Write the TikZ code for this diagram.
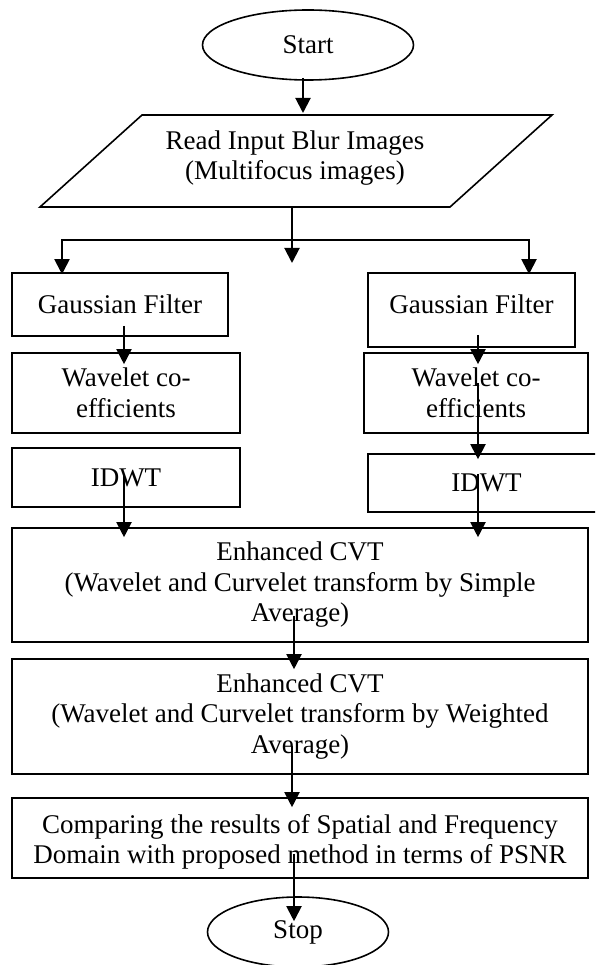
\documentclass[tikz,border=0pt]{standalone}
\usepackage{fontspec}
\setmainfont{Liberation Serif}
\usetikzlibrary{arrows.meta,shapes.geometric}

\begin{document}
\begin{tikzpicture}[x=1pt,y=-1pt,
  every node/.style={font=\fontsize{27}{30.5}\selectfont, align=center, inner sep=0pt},
  box/.style={draw, line width=1.6pt, rectangle},
  term/.style={draw, line width=1.6pt, ellipse},
  flow/.style={line width=2pt, -{Triangle[length=15pt,width=15pt]}},
  plain/.style={line width=2pt}]

\clip (0,0) rectangle (595,965);
\fill[white] (0,0) rectangle (595,965);

% terminals
\node[term, minimum width=211pt, minimum height=70pt] (start) at (308,45) {Start};
\node[term, minimum width=181pt, minimum height=70pt] (stop) at (298,932) {Stop};

% input parallelogram
\draw[line width=1.6pt] (142,115) -- (552,115) -- (450,207) -- (40,207) -- cycle;
\node (read) at (295,158) {Read Input Blur Images\\(Multifocus images)};
\coordinate (readtop) at (303,115);
\coordinate (readbot) at (292,207);
\coordinate (split) at (292,240);
\coordinate (dangle) at (292,263);

% left branch
\node[box, minimum width=216pt, minimum height=63pt] (g1) at (120,304.5) {Gaussian Filter};
\node[box, minimum width=228pt, minimum height=80pt] (w1) at (126,393) {Wavelet co-\\efficients};
\node[box, minimum width=228pt, minimum height=59pt] (i1) at (126,477.5) {IDWT};

% right branch
\node[box, minimum width=207pt, minimum height=74pt,
      label={[yshift=6pt]center:Gaussian Filter}] (g2) at (471.5,310) {};
\node[box, minimum width=224pt, minimum height=80pt] (w2) at (476,393) {Wavelet co-\\efficients};
\node[box, minimum width=237pt, minimum height=58pt] (i2) at (486.5,483) {IDWT};

% fusion and evaluation
\node[box, minimum width=576pt, minimum height=114pt] (e1) at (300,585)
  {Enhanced CVT\\(Wavelet and Curvelet transform by Simple\\Average)};
\node[box, minimum width=576pt, minimum height=115pt] (e2) at (300,716.5)
  {Enhanced CVT\\(Wavelet and Curvelet transform by Weighted\\Average)};
\node[box, minimum width=576pt, minimum height=80pt,
      label={[yshift=-4pt]center:{Comparing the results of Spatial and Frequency\\Domain with proposed method in terms of PSNR}}] (cmp) at (300,838) {};

% connectors
\draw[flow] ([xshift=-5pt,yshift=3pt]start.south) -- ([yshift=2pt]readtop);
\draw[plain] (readbot) -- (split);
\draw[flow] (split) -- (dangle);
\draw[flow, shorten >=-2pt] (split) -| ([xshift=-58pt]g1.north);
\draw[flow, shorten >=-2pt] (split) -| ([xshift=57.5pt]g2.north);
\draw[flow] ([xshift=4pt,yshift=11pt]g1.south) -- ([xshift=-2pt,yshift=-12pt]w1.north);
\draw[flow] ([xshift=6.5pt,yshift=13pt]g2.south) -- ([xshift=2pt,yshift=-12pt]w2.north);
\draw[flow] ([xshift=2pt,yshift=51pt]w2.south) -- ([xshift=-8.5pt,yshift=-6pt]i2.north);
\draw[flow] ([xshift=-2pt,yshift=34pt]i1.south) -- ([xshift=-176pt,yshift=-10pt]e1.north);
\draw[flow] ([xshift=-8.5pt,yshift=39pt]i2.south) -- ([xshift=178pt,yshift=-10pt]e1.north);
\draw[flow] ([xshift=-6pt,yshift=27pt]e1.south) -- ([xshift=-6pt,yshift=-11pt]e2.north);
\draw[flow] ([xshift=-8pt,yshift=29pt]e2.south) -- ([xshift=-8pt,yshift=-10pt]cmp.north);
\draw[flow] ([xshift=-6pt,yshift=25pt]cmp.south) -- ([xshift=-4pt,yshift=-25pt]stop.north);
\end{tikzpicture}
\end{document}
